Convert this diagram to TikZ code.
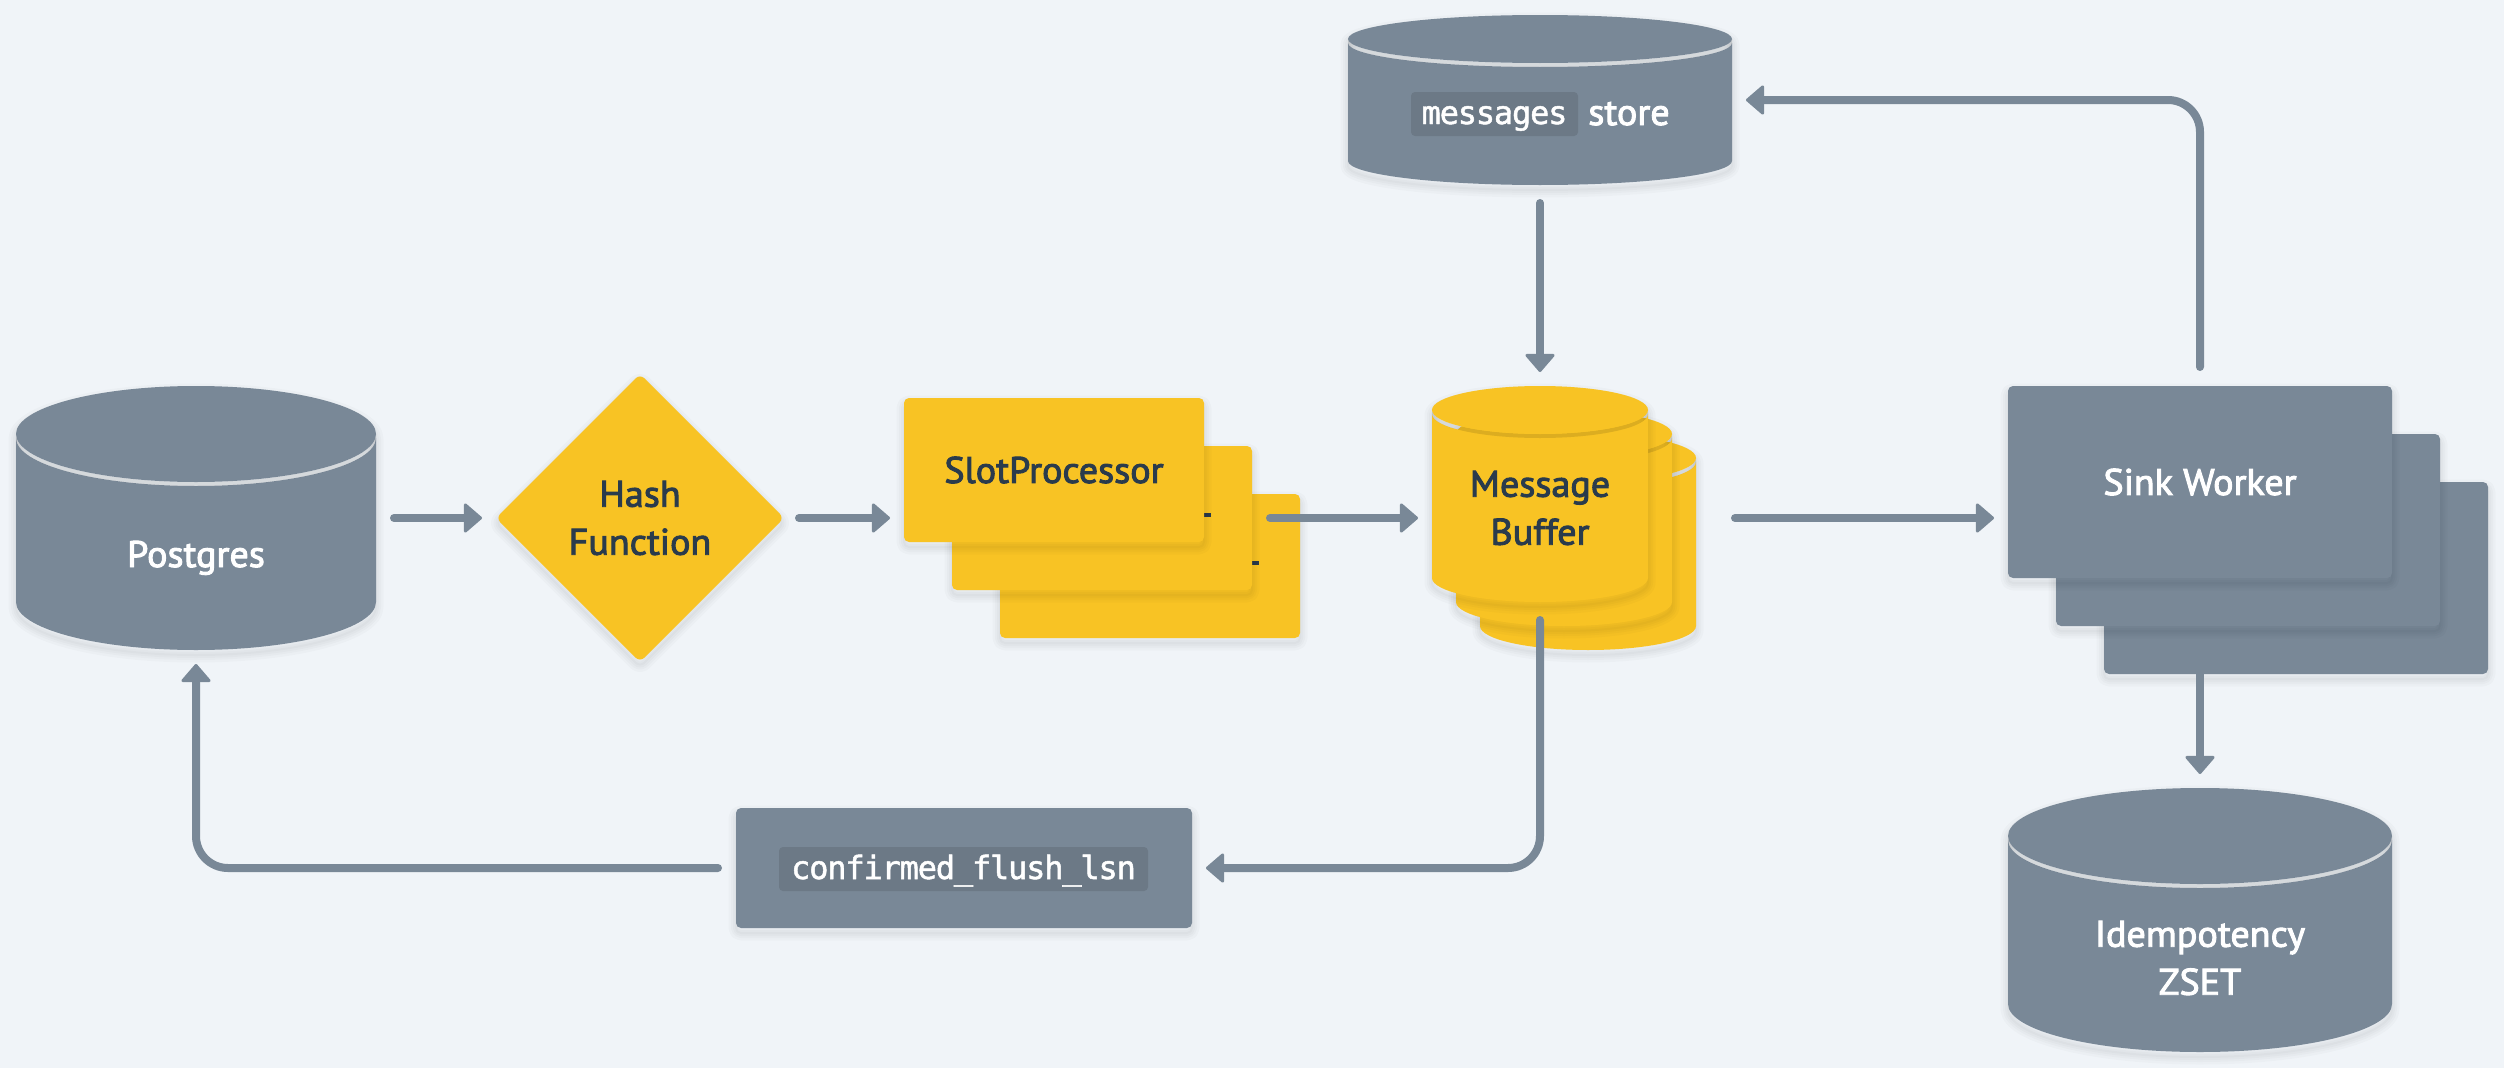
\documentclass[tikz,border=0pt]{standalone}
\usepackage{fontspec}
\setmainfont{PT Sans}[FakeBold=2.6,FakeStretch=1.03]
\newfontfamily\codefont{DejaVu Sans Mono}[FakeBold=1.5,LetterSpace=-3.7]
\usetikzlibrary{arrows.meta,calc,shapes.geometric}
\definecolor{pagebg}{HTML}{F0F4F8}
\definecolor{slate}{HTML}{798897}
\definecolor{amber}{HTML}{F8C324}
\definecolor{ink}{HTML}{2A3B4C}
\definecolor{codebg}{HTML}{6C7986}
\pgfdeclarelayer{low}
\pgfdeclarelayer{mid}
\pgfsetlayers{low,mid,main}
\tikzset{
  softsh/.style={
    preaction={draw=black,draw opacity=.018,line width=15pt,line join=round,transform canvas={yshift=-5pt}},
    preaction={draw=black,draw opacity=.018,line width=10pt,line join=round,transform canvas={yshift=-5pt}},
    preaction={draw=black,draw opacity=.018,line width=6pt,line join=round,transform canvas={yshift=-5pt}},
    preaction={draw=black,draw opacity=.018,line width=2pt,line join=round,transform canvas={yshift=-5pt}}},
  card/.style={softsh,rectangle,rounded corners=5pt,inner sep=0pt,outer sep=0pt,minimum width=#1},
  labeltext/.style={font=\fontsize{37}{48}\selectfont,align=center,inner sep=0pt},
  onslate/.style={labeltext,text=white},
  onamber/.style={labeltext,text=ink},
  codebox/.style={fill=codebg,rounded corners=4pt,inner sep=0pt,outer sep=0pt,text=white,
    font=\codefont\fontsize{32}{32}\selectfont,text height=32pt,text depth=12pt},
  conn/.style={draw=slate,line width=8pt,line cap=round,line join=round,rounded corners=32pt,
    -{Triangle[length=19pt,width=32pt,line width=3pt,round,fill=slate,color=slate]}},
}
% name, cx, top, bottom, rx, ry, colour
\newcommand{\cyl}[7]{%
  \pgfmathsetmacro{\cx}{#2}\pgfmathsetmacro{\rx}{#5}\pgfmathsetmacro{\ry}{#6}%
  \pgfmathsetmacro{\lft}{#2-#5}\pgfmathsetmacro{\rgt}{#2+#5}%
  \pgfmathsetmacro{\rim}{-(#3+#6)}\pgfmathsetmacro{\rimb}{-(#3+#6+4)}%
  \pgfmathsetmacro{\bot}{-(#4-#6)}%
  \path[softsh] (\lft,\rim) arc[start angle=180,end angle=0,x radius=\rx,y radius=\ry]
     -- (\rgt,\bot) arc[start angle=0,end angle=-180,x radius=\rx,y radius=\ry] -- cycle;
  \fill[#7] (\lft,\rimb) arc[start angle=180,end angle=360,x radius=\rx,y radius=\ry]
     -- (\rgt,\bot) arc[start angle=0,end angle=-180,x radius=\rx,y radius=\ry] -- cycle;
  \fill[black,fill opacity=.11] (\lft,\rim) arc[start angle=180,end angle=360,x radius=\rx,y radius=\ry]
     -- (\rgt,\rimb) arc[start angle=0,end angle=-180,x radius=\rx,y radius=\ry] -- cycle;
  \fill[#7] (\cx,\rim) ellipse[x radius=\rx,y radius=\ry];
  \pgfmathsetmacro{\cy}{-(#3+#4)/2}\pgfmathsetmacro{\bw}{2*#5}\pgfmathsetmacro{\bh}{#4-#3}%
  \node[rectangle,inner sep=0pt,outer sep=0pt,minimum width=\bw pt,minimum height=\bh pt] (#1) at (\cx,\cy) {};
}
\begin{document}
\begin{tikzpicture}[x=1pt,y=1pt]
\useasboundingbox (0,0) rectangle (2504,-1068);
\begin{pgfonlayer}{low}
\fill[pagebg] (0,0) rectangle (2504,-1068);
\end{pgfonlayer}

% cylinders
\cyl{pg}{196}{386}{650}{180}{48}{slate}
\node[onslate,anchor=base] (pgtext) at (196,-567) {Postgres};

\cyl{store}{1540}{15}{185}{192}{24}{slate}
\node[codebox,minimum width=167pt] (storecode) at (1494.5,-114) {messages};
\node[onslate,anchor=base] (storetext) at (1629,-125) {store};

\cyl{idem}{2200}{788}{1052}{192}{48}{slate}
\node[onslate] (idemtext) at (2200,-958) {Idempotency\\ZSET};

% hash
\node[softsh,diamond,aspect=1,fill=amber,rounded corners=6pt,inner sep=0pt,outer sep=0pt,
  minimum width=288pt,minimum height=288pt,onamber,text=ink] (hash) at (640,-518) {Hash\\Function};

% slot processors
\node[card=300pt,minimum height=144pt,fill=amber] (slotC) at (1150,-566) {};
\fill[ink] (1252,-561) rectangle (1259,-565);
\node[card=300pt,minimum height=144pt,fill=amber] (slotB) at (1102,-518) {};
\fill[ink] (1204,-513) rectangle (1211,-517);
\node[card=300pt,minimum height=144pt,fill=amber,onamber,text=ink] (slot) at (1054,-470) {SlotProcessor};

% message buffers
\cyl{bufC}{1588}{434}{650}{108}{24}{amber}
\cyl{bufB}{1564}{410}{626}{108}{24}{amber}
\cyl{buf}{1540}{386}{602}{108}{24}{amber}
\node[onamber] (buftext) at (1540,-508) {Message\\Buffer};

% sink workers
\begin{pgfonlayer}{low}
\node[card=384pt,minimum height=192pt,fill=slate] (sinkC) at (2296,-578) {};
\end{pgfonlayer}
\node[card=384pt,minimum height=192pt,fill=slate] (sinkB) at (2248,-530) {};
\node[card=384pt,minimum height=192pt,fill=slate,onslate,text=white] (sink) at (2200,-482) {Sink Worker};

% confirmed flush box
\node[card=456pt,minimum height=120pt,fill=slate] (cfl) at (964,-868) {};
\node[codebox,minimum width=369pt] (cflcode) at (963.5,-869) {confirmed\_flush\_lsn};

% connectors
\draw[conn,shorten <=18pt,shorten >=14pt] (pg.east) -- (hash.west);
\draw[conn,shorten <=15pt,shorten >=14pt] (hash.east) -- (hash.east -| slot.west);
\draw[conn,shorten <=18pt,shorten >=14pt] (slotB.east |- hash.east) -- (hash.east -| buf.west);
\draw[conn,shorten <=39pt,shorten >=14pt] (bufC.east |- hash.east) -- (hash.east -| sink.west);
\draw[conn,shorten <=19pt,shorten >=14pt] (sink.north) -- (sink.north |- store.east) -- (store.east);
\draw[conn,shorten <=18pt,shorten >=14pt] (store.south) -- (buf.north);
\draw[conn,shorten <=18pt,shorten >=14pt] (buf.south) -- (buf.south |- cfl.east) -- (cfl.east);
\draw[conn,shorten <=18pt,shorten >=14pt] (cfl.west) -- (cfl.west -| pg.south) -- (pg.south);
\begin{pgfonlayer}{mid}
\draw[conn,shorten >=14pt] (sink.south) -- (idem.north);
\end{pgfonlayer}
\end{tikzpicture}
\end{document}
